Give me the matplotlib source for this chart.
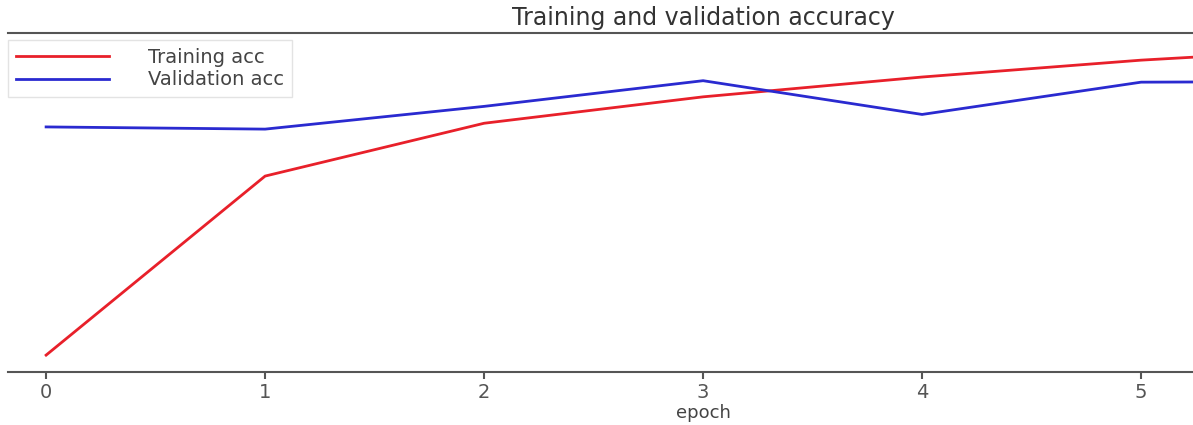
import matplotlib
matplotlib.use("Agg")
import matplotlib.pyplot as plt

epochs = [0, 1, 2, 3, 4, 5, 6]
train_acc = [0.550, 0.794, 0.866, 0.902, 0.929, 0.952, 0.969]
val_acc = [0.861, 0.858, 0.889, 0.924, 0.878, 0.922, 0.923]
xticks = [0, 1, 2, 3, 4, 5]

W, H = 1193, 425
fig = plt.figure(figsize=(W / 100, H / 100), dpi=100)
left_px, right_px, top_px, bottom_px = 8, 1193, 33, 372
ax = fig.add_axes([left_px / W, 1 - bottom_px / H,
                   (right_px - left_px) / W, (bottom_px - top_px) / H])

ax.plot(epochs, train_acc, color="#e8202a", lw=2, label="Training acc")
ax.plot(epochs, val_acc, color="#2a2ad0", lw=2, label="Validation acc")

ax.set_xlim(-0.174, 5.237)
ax.set_ylim(0.527, 0.989)
ax.set_xticks(xticks)
ax.set_yticks([])
ax.tick_params(axis="x", direction="out", length=5, width=1.5, colors="#555555",
               labelsize=14, pad=3)
for s in ["left", "right"]:
    ax.spines[s].set_visible(False)
for s in ["top", "bottom"]:
    ax.spines[s].set_color("#555555")
    ax.spines[s].set_linewidth(1.5)

title_x = (703 - left_px) / (right_px - left_px)
ax.set_title("Training and validation accuracy", fontsize=17, color="#333333",
             x=title_x, pad=6)
ax.set_xlabel("epoch", fontsize=13, color="#444444", va="center")
ax.xaxis.set_label_coords(title_x, -0.12)

leg = ax.legend(loc="upper left", bbox_to_anchor=(0.0, 0.98), fontsize=14,
                handlelength=4.8, handletextpad=2.0, borderaxespad=0.0,
                labelspacing=0.2, frameon=True, fancybox=False)
leg.get_frame().set_edgecolor("#dddddd")
for t in leg.get_texts():
    t.set_color("#444444")

fig.savefig("out.png", dpi=100)
